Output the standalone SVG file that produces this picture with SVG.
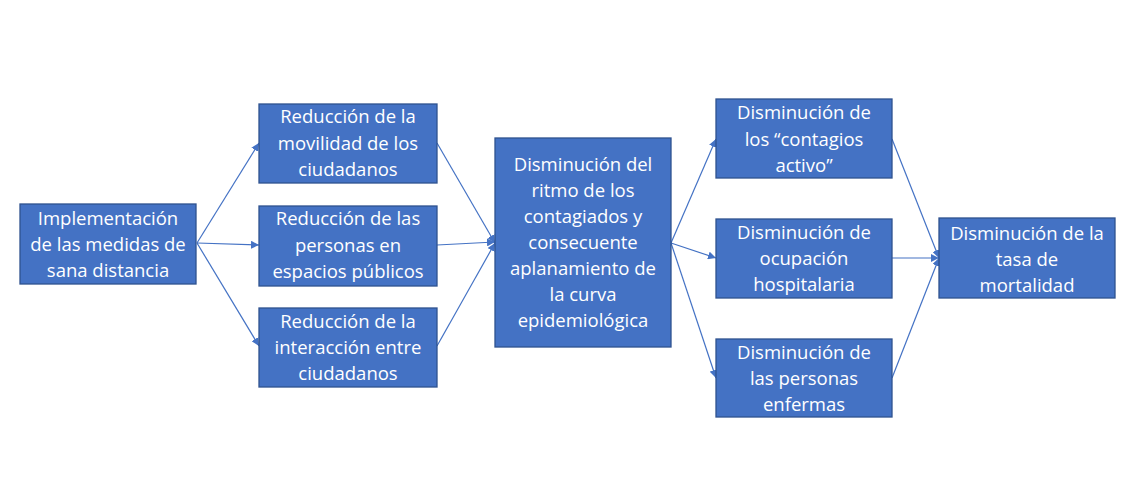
<svg xmlns="http://www.w3.org/2000/svg" width="1130" height="502" viewBox="0 0 1130 502">
<defs>
<style>
.box{fill:#4472C4;stroke:#2F528F;stroke-width:1.3}
.t{fill:#fff;font-family:"Open Sans","Liberation Sans",sans-serif;font-size:18.5px;text-anchor:middle}
.c{stroke:#4472C4;stroke-width:1.2;fill:none;marker-end:url(#ah)}
</style>
<marker id="ah" viewBox="0 0 10 10" refX="10" refY="5" markerWidth="8" markerHeight="8" orient="auto" markerUnits="userSpaceOnUse">
<path d="M0,0 L10,5 L0,10 z" fill="#4472C4"/>
</marker>
</defs>
<rect width="1130" height="502" fill="#fff"/>
<g id="connectors">
<line class="c" x1="197" y1="243" x2="259" y2="143"/>
<line class="c" x1="197" y1="243" x2="259" y2="245"/>
<line class="c" x1="197" y1="243" x2="259" y2="346"/>
<line class="c" x1="437" y1="143" x2="495" y2="243"/>
<line class="c" x1="437" y1="245" x2="495" y2="242"/>
<line class="c" x1="437" y1="346" x2="495" y2="243"/>
<line class="c" x1="671" y1="243" x2="716" y2="139"/>
<line class="c" x1="671" y1="243" x2="716" y2="258"/>
<line class="c" x1="671" y1="243" x2="716" y2="378"/>
<line class="c" x1="892" y1="139" x2="939" y2="258"/>
<line class="c" x1="892" y1="258" x2="939" y2="258"/>
<line class="c" x1="892" y1="378" x2="939" y2="258"/>
</g>
<g id="n-impl">
<rect class="box" x="20" y="204" width="176" height="80"/>
<text class="t" x="108" y="225">Implementación</text>
<text class="t" x="108" y="251">de las medidas de</text>
<text class="t" x="108" y="277">sana distancia</text>
</g>
<g id="n-movilidad">
<rect class="box" x="259" y="104" width="178" height="79"/>
<text class="t" x="348" y="123">Reducción de la</text>
<text class="t" x="348" y="150">movilidad de los</text>
<text class="t" x="348" y="176">ciudadanos</text>
</g>
<g id="n-personas">
<rect class="box" x="259" y="206" width="178" height="80"/>
<text class="t" x="348" y="225">Reducción de las</text>
<text class="t" x="348" y="252">personas en</text>
<text class="t" x="348" y="278">espacios públicos</text>
</g>
<g id="n-interaccion">
<rect class="box" x="259" y="308" width="178" height="79"/>
<text class="t" x="348" y="328">Reducción de la</text>
<text class="t" x="348" y="354">interacción entre</text>
<text class="t" x="348" y="380">ciudadanos</text>
</g>
<g id="n-ritmo">
<rect class="box" x="495" y="138" width="176" height="209"/>
<text class="t" x="583" y="171">Disminución del</text>
<text class="t" x="583" y="197">ritmo de los</text>
<text class="t" x="583" y="223">contagiados y</text>
<text class="t" x="583" y="249">consecuente</text>
<text class="t" x="583" y="275">aplanamiento de</text>
<text class="t" x="583" y="301">la curva</text>
<text class="t" x="583" y="327">epidemiológica</text>
</g>
<g id="n-contagios">
<rect class="box" x="716" y="99" width="176" height="79"/>
<text class="t" x="804" y="119">Disminución de</text>
<text class="t" x="804" y="146">los “contagios</text>
<text class="t" x="804" y="172">activo”</text>
</g>
<g id="n-ocupacion">
<rect class="box" x="716" y="219" width="176" height="79"/>
<text class="t" x="804" y="239">Disminución de</text>
<text class="t" x="804" y="265">ocupación</text>
<text class="t" x="804" y="291">hospitalaria</text>
</g>
<g id="n-enfermas">
<rect class="box" x="716" y="339" width="176" height="78"/>
<text class="t" x="804" y="359">Disminución de</text>
<text class="t" x="804" y="385">las personas</text>
<text class="t" x="804" y="411">enfermas</text>
</g>
<g id="n-mortalidad">
<rect class="box" x="939" y="218" width="176" height="80"/>
<text class="t" x="1027" y="240">Disminución de la</text>
<text class="t" x="1027" y="266">tasa de</text>
<text class="t" x="1027" y="292">mortalidad</text>
</g>
</svg>
